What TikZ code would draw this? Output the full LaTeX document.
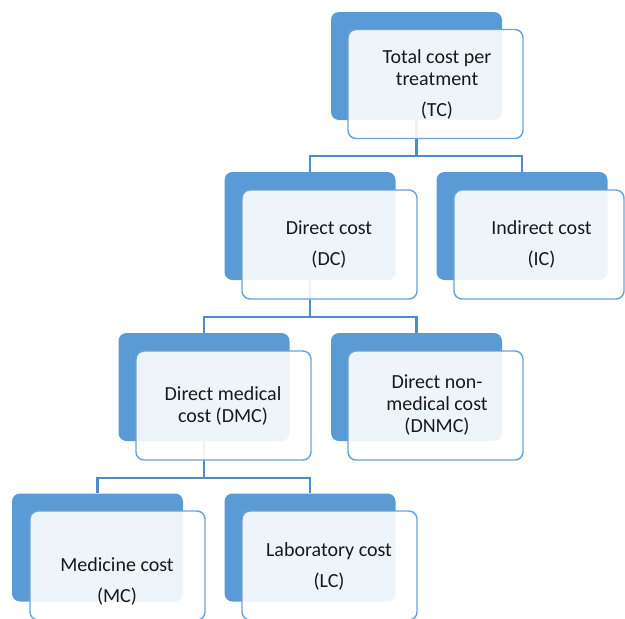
\documentclass[tikz,border=0pt]{standalone}
\usepackage{fontspec}
\setmainfont{Carlito}
\definecolor{accent}{HTML}{5B9BD5}
\definecolor{linkblue}{HTML}{4F8BC6}
\definecolor{rim}{HTML}{6AA3D8}
\begin{document}
\begin{tikzpicture}[x=0.75pt,y=-0.75pt,
  backbox/.style={fill=accent, draw=none, rounded corners=6pt,
    minimum width=128.25pt, minimum height=81pt, inner sep=0pt},
  frontbox/.style={fill=white, fill opacity=0.9, draw=rim, line width=1.1pt,
    rounded corners=6pt, minimum width=131.25pt, minimum height=81.75pt, inner sep=0pt},
  caption/.style={align=center, font=\fontsize{15}{16.5}\selectfont,
    text=black!90, inner sep=0pt},
  link/.style={draw=linkblue, line width=1.6pt}]
\useasboundingbox (0,0) rectangle (625,618);
\clip (0,0) rectangle (625,618);

% bus levels of the tree
\coordinate (j1) at (0,156);
\coordinate (j2) at (0,317);
\coordinate (j3) at (0,478);

% back plates
\node[backbox] (tc-b)   at (416.5,66)   {};
\node[backbox] (dc-b)   at (310,226)    {};
\node[backbox] (ic-b)   at (522,226)    {};
\node[backbox] (dmc-b)  at (204,387)    {};
\node[backbox] (dnmc-b) at (416.5,387)  {};
\node[backbox] (mc-b)   at (97.5,547.5) {};
\node[backbox] (lc-b)   at (310,547.5)  {};

% connectors (drawn under the translucent front cards)
\draw[link] (tc-b.south) -- (tc-b.south |- j1);
\draw[link] (dc-b.north) -- (dc-b.north |- j1) -| (ic-b.north);
\draw[link] (dc-b.south) -- (dc-b.south |- j2);
\draw[link] (dmc-b.north) -- (dmc-b.north |- j2) -| (dnmc-b.north);
\draw[link] (dmc-b.south) -- (dmc-b.south |- j3);
\draw[link] (mc-b.north) -- (mc-b.north |- j3) -| (lc-b.north);

% translucent front cards
\node[frontbox] (tc)   at (435.5,84)    {};
\node[frontbox] (dc)   at (329.5,244.5) {};
\node[frontbox, minimum width=127.5pt] (ic) at (539,244.5) {};
\node[frontbox] (dmc)  at (223.5,405.5) {};
\node[frontbox] (dnmc) at (435.5,405.5) {};
\node[frontbox] (mc)   at (117.5,565.5) {};
\node[frontbox] (lc)   at (329.5,565.5) {};

% captions
\node[caption] (tc-t)   at (437,84)    {Total cost per\\treatment\\[6.75pt](TC)};
\node[caption] (dc-t)   at (329,244.5) {Direct cost\\[6.75pt](DC)};
\node[caption] (ic-t)   at (541.5,244.5) {Indirect cost\\[6.75pt](IC)};
\node[caption] (dmc-t)  at (223,405.5) {Direct medical\\cost (DMC)};
\node[caption] (dnmc-t) at (437,405)   {Direct non-\\medical cost\\(DNMC)};
\node[caption] (mc-t)   at (117,581.5) {Medicine cost\\[6.75pt](MC)};
\node[caption] (lc-t)   at (329,566)   {Laboratory cost\\[6.75pt](LC)};
\end{tikzpicture}
\end{document}
